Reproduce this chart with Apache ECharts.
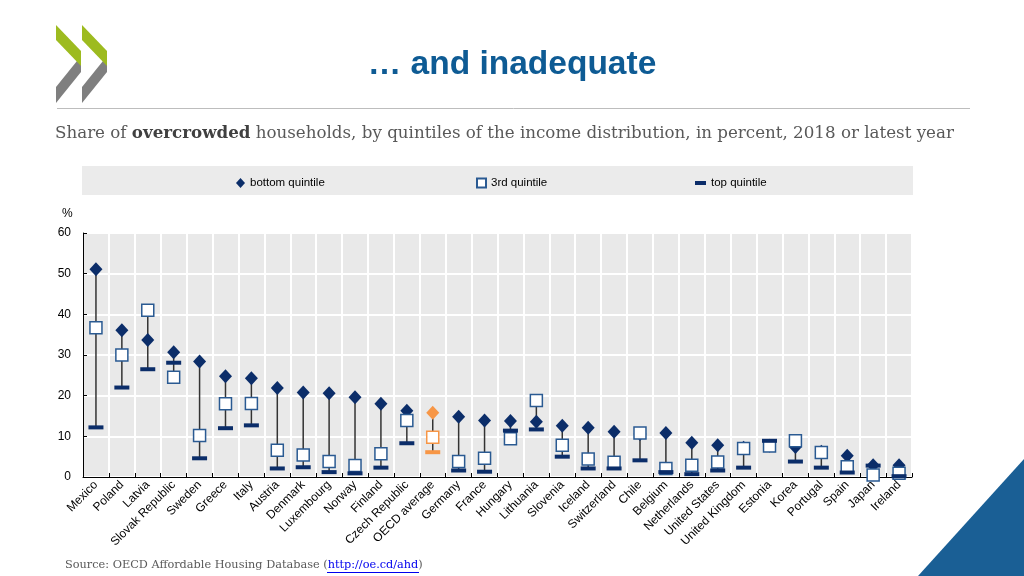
<!DOCTYPE html>
<html>
<head>
<meta charset="utf-8">
<script src="https://cdn.jsdelivr.net/npm/echarts@6/dist/echarts.min.js"></script>
<style>
html,body{margin:0;padding:0;background:#fff;}
#chart{width:1024px;height:576px;}
</style>
</head>
<body>
<div id="chart"></div>
<script>
var categories = ['Mexico','Poland','Latvia','Slovak Republic','Sweden','Greece','Italy','Austria','Denmark','Luxembourg','Norway','Finland','Czech Republic','OECD average','Germany','France','Hungary','Lithuania','Slovenia','Iceland','Switzerland','Chile','Belgium','Netherlands','United States','United Kingdom','Estonia','Korea','Portugal','Spain','Japan','Ireland'];
var bottomQuintile = [51.1,36.1,33.7,30.7,28.4,24.8,24.3,21.9,20.8,20.6,19.6,18.0,16.3,15.8,14.8,13.9,13.8,13.6,12.6,12.1,11.1,10.6,10.8,8.4,7.8,7.2,7.7,7.4,6.2,5.2,2.9,2.9];
var thirdQuintile = [36.7,30.0,41.0,24.5,10.2,18.0,18.1,6.6,5.4,3.8,2.8,5.7,13.9,9.8,3.8,4.6,9.4,18.8,7.8,4.4,3.6,10.8,2.1,2.9,3.7,7.0,7.6,8.9,6.0,2.5,0.5,0.9];
var topQuintile = [12.2,22.0,26.5,28.1,4.6,12.0,12.7,2.1,2.4,1.2,0.9,2.3,8.3,6.1,1.6,1.3,11.4,11.7,5.0,2.1,2.1,4.1,1.2,0.7,1.6,2.3,8.9,3.8,2.3,1.1,2.8,0.2];
var yTicks = [0,10,20,30,40,50,60];
var highlight = 'OECD average';

var NAVY = '#0b2d69', SQB = '#2a5a92', ORANGE = '#f79646';

var rangeData = categories.map(function(c,i){
  var v=[bottomQuintile[i],thirdQuintile[i],topQuintile[i]];
  return [i, Math.min.apply(null,v), Math.max.apply(null,v)];
});
function pts(arr, kind){
  return arr.map(function(v,i){
    var d={value:[i,v]};
    if(categories[i]===highlight){
      if(kind==='sq') d.itemStyle={color:'#fff',borderColor:ORANGE};
      else d.itemStyle={color:ORANGE};
    }
    return d;
  });
}

var chart = echarts.init(document.getElementById('chart'), null, {renderer:'canvas'});
var sans = "'Liberation Sans', Arial, sans-serif";
var serif = "'DejaVu Serif', 'Liberation Serif', serif";
var option = {
  animation:false,
  textStyle:{fontFamily:sans},
  grid:{left:83,right:112,top:233,bottom:99,show:true,backgroundColor:'#e9e9e9',borderWidth:0},
  graphic:[
    {type:'polygon',shape:{points:[[56,25],[81,51],[81,66],[56,40]]},style:{fill:'#9dbb1f'},z:10},
    {type:'polygon',shape:{points:[[81,56],[81,72],[56,103],[56,87]]},style:{fill:'#7f7f7f'},z:9},
    {type:'polygon',shape:{points:[[82,25],[107,51],[107,66],[82,40]]},style:{fill:'#9dbb1f'},z:10},
    {type:'polygon',shape:{points:[[107,56],[107,72],[82,103],[82,87]]},style:{fill:'#7f7f7f'},z:9},
    {type:'text',left:'center',top:48,style:{text:'… and inadequate',font:"bold 33.5px 'Liberation Sans', Arial",fill:'#0e5b94'}},
    {type:'line',shape:{x1:57,y1:108.5,x2:970,y2:108.5},style:{stroke:'#bdbdbd',lineWidth:1}},
    {type:'text',left:55,top:125,style:{text:'{n|Share of }{b|overcrowded}{n| households, by quintiles of the income distribution, in percent, 2018 or latest year}',
      rich:{n:{fontFamily:serif,fontSize:16.7,fill:'#595959'},b:{fontFamily:serif,fontSize:16.7,fontWeight:'bold',fill:'#404040'}}}},
    {type:'rect',shape:{x:82,y:166,width:831,height:29},style:{fill:'#ebebeb'},z:-1},
    {type:'text',left:62,top:208,style:{text:'%',font:"12px 'Liberation Sans', Arial",fill:'#000'}},
    {type:'text',left:65,top:560,style:{text:'{n|Source: OECD Affordable Housing Database (}{l|http://oe.cd/ahd}{n|)}',
      rich:{n:{fontFamily:serif,fontSize:11.3,fill:'#595959'},l:{fontFamily:serif,fontSize:11.3,fill:'#0000ee'}}}},
    {type:'line',shape:{x1:327,y1:572.5,x2:419,y2:572.5},style:{stroke:'#0000ee',lineWidth:1}},
    {type:'polygon',shape:{points:[[1024,459],[1024,576],[918,576]]},style:{fill:'#1a5f95'}}
  ],
  legend:[
    {data:['bottom quintile'],left:231,top:172,itemWidth:9,itemHeight:10,textStyle:{fontSize:11.5,color:'#000',fontFamily:sans},icon:'diamond'},
    {data:['3rd quintile'],left:471,top:172,itemWidth:9,itemHeight:9,textStyle:{fontSize:11.5,color:'#000',fontFamily:sans},icon:'rect'},
    {data:['top quintile'],left:690,top:172,itemWidth:11,itemHeight:4,textStyle:{fontSize:11.5,color:'#000',fontFamily:sans},icon:'rect'}
  ],
  xAxis:{type:'category',data:categories,boundaryGap:true,
    axisLine:{lineStyle:{color:'#000',width:1}},
    axisTick:{show:true,inside:true,length:4,lineStyle:{color:'#000'}},
    splitLine:{show:true,lineStyle:{color:'#fff',width:2}},
    axisLabel:{rotate:45,interval:0,fontSize:12,color:'#000',margin:6,fontFamily:sans}},
  yAxis:{type:'value',min:yTicks[0],max:yTicks[yTicks.length-1],interval:10,
    axisLine:{show:true,lineStyle:{color:'#000',width:1}},
    axisTick:{show:true,inside:true,length:4,lineStyle:{color:'#000'}},
    splitLine:{show:true,lineStyle:{color:'#fff',width:2}},
    axisLabel:{fontSize:12,color:'#000',margin:12,fontFamily:sans}},
  series:[
    {type:'custom',name:'range',data:rangeData,z:1,silent:true,
      renderItem:function(params,api){
        var x=api.value(0);
        var p1=api.coord([x,api.value(1)]), p2=api.coord([x,api.value(2)]);
        return {type:'line',shape:{x1:p1[0],y1:p1[1],x2:p2[0],y2:p2[1]},style:{stroke:'#333',lineWidth:1.5}};
      },
      encode:{x:0,y:[1,2]}},
    {type:'scatter',name:'bottom quintile',data:pts(bottomQuintile,'d'),symbol:'diamond',symbolSize:[13,14],z:2,
      itemStyle:{color:NAVY,opacity:1}},
    {type:'scatter',name:'3rd quintile',data:pts(thirdQuintile,'sq'),symbol:'rect',symbolSize:12,z:3,
      itemStyle:{color:'#fff',borderColor:SQB,borderWidth:1.5,opacity:1}},
    {type:'scatter',name:'top quintile',data:pts(topQuintile,'b'),symbol:'rect',symbolSize:[15,4],z:4,
      itemStyle:{color:NAVY,opacity:1}}
  ]
};
chart.setOption(option);
</script>
</body>
</html>
